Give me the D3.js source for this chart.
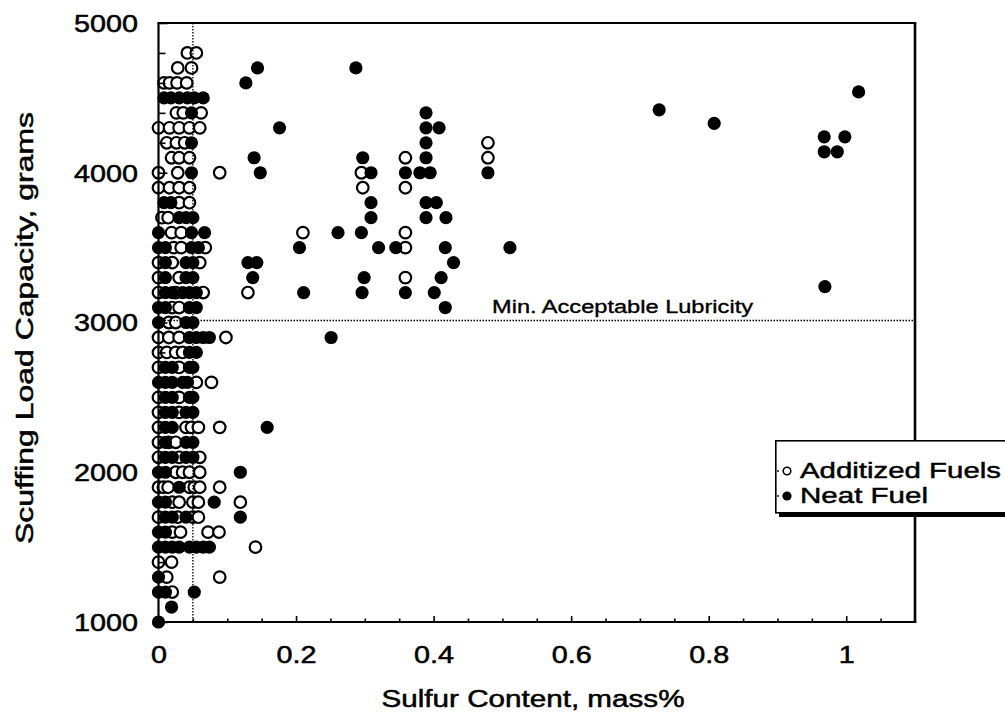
<!DOCTYPE html>
<html>
<head>
<meta charset="utf-8">
<script src="https://cdn.jsdelivr.net/npm/d3@7"></script>
<style>
  html, body { margin: 0; padding: 0; background: #fff; }
  svg { display: block; }
  text { font-family: "Liberation Sans", Arial, Helvetica, sans-serif; fill: #000; }
</style>
</head>
<body>
<svg id="chart" width="1005" height="721"></svg>
<script>
// ---------------- data ----------------
const seriesNames = ["Additized Fuels", "Neat Fuel"];

const xTickValues = [0, 0.2, 0.4, 0.6, 0.8, 1];
const xTickLabels = ["0", "0.2", "0.4", "0.6", "0.8", "1"];
const xMinorTicks = [0.05,0.1,0.15,0.25,0.3,0.35,0.45,0.5,0.55,0.65,0.7,0.75,0.85,0.9,0.95,1.05];
const yTickValues = [1000, 2000, 3000, 4000, 5000];
const yTickLabels = ["1000", "2000", "3000", "4000", "5000"];
const yMinorTicks = [1200,1400,1600,1800,2200,2400,2600,2800,3200,3400,3600,3800,4200,4400,4600,4800];

const sulfurLimit = 0.05;          // dotted vertical line (mass%)
const minLubricity = 3000;         // dotted horizontal line (grams)
const minLubricityLabel = "Min. Acceptable Lubricity";

// [sulfur mass%, scuffing load g]
const additizedLowSulfur = [
  [0.042,4800],[0.055,4800],
  [0.028,4700],[0.048,4700],
  [0.008,4600],[0.016,4600],[0.027,4600],[0.041,4600],
  [0.026,4400],[0.036,4400],[0.062,4400],
  [0,4300],[0.016,4300],[0.03,4300],[0.045,4300],[0.06,4300],
  [0.012,4200],[0.026,4200],[0.038,4200],
  [0.019,4100],[0.03,4100],[0.045,4100],
  [0,4000],[0.028,4000],[0.089,4000],
  [0,3900],[0.016,3900],[0.03,3900],[0.045,3900],
  [0.03,3800],[0.045,3800],
  [0.005,3700],[0.014,3700],
  [0.019,3600],[0.033,3600],
  [0.022,3500],[0.033,3500],[0.068,3500],
  [0,3400],[0.02,3400],[0.06,3400],
  [0,3300],[0.03,3300],
  [0,3200],[0.025,3200],[0.065,3200],
  [0.02,3100],[0.03,3100],
  [0.015,3000],[0.025,3000],
  [0,2900],[0.015,2900],[0.03,2900],[0.098,2900],
  [0,2800],[0.012,2800],[0.025,2800],[0.035,2800],
  [0,2700],[0.03,2700],
  [0.055,2600],[0.077,2600],
  [0,2500],[0.03,2500],
  [0,2400],[0.03,2400],
  [0,2300],[0.04,2300],[0.048,2300],[0.058,2300],[0.089,2300],
  [0,2200],[0.015,2200],[0.025,2200],
  [0,2100],[0.03,2100],[0.06,2100],
  [0.025,2000],[0.035,2000],[0.045,2000],[0.06,2000],
  [0,1900],[0.007,1900],[0.014,1900],[0.045,1900],[0.052,1900],[0.06,1900],[0.089,1900],
  [0.02,1800],[0.03,1800],[0.05,1800],[0.058,1800],
  [0,1700],[0.028,1700],[0.05,1700],[0.058,1700],
  [0.02,1600],[0.032,1600],[0.072,1600],[0.088,1600],
  [0,1400],[0.019,1400],
  [0.012,1300],[0.089,1300],
  [0.02,1200]
];
const additizedHighSulfur = [
  [0.119,1800],[0.141,1500],[0.13,3200],[0.21,3600],
  [0.295,4000],[0.297,3900],
  [0.359,4100],[0.359,3900],[0.359,3600],[0.359,3500],[0.359,3300],
  [0.479,4200],[0.479,4100]
];
const neatLowSulfur = [
  [0.008,4500],[0.018,4500],[0.03,4500],[0.042,4500],[0.052,4500],[0.065,4500],
  [0.048,4400],[0.048,4200],[0.048,4000],
  [0.008,3800],[0.018,3800],
  [0.03,3700],[0.04,3700],[0.05,3700],
  [0,3600],[0.048,3600],[0.067,3600],
  [0,3500],[0.01,3500],[0.048,3500],[0.058,3500],
  [0.01,3400],[0.04,3400],[0.05,3400],
  [0.01,3300],[0.04,3300],[0.05,3300],
  [0.01,3200],[0.02,3200],[0.035,3200],[0.045,3200],[0.055,3200],
  [0,3100],[0.01,3100],[0.045,3100],[0.055,3100],
  [0,3000],[0.04,3000],[0.05,3000],
  [0.045,2900],[0.055,2900],[0.065,2900],[0.074,2900],
  [0.045,2800],[0.055,2800],
  [0.01,2700],[0.02,2700],[0.045,2700],[0.05,2700],
  [0,2600],[0.01,2600],[0.02,2600],[0.035,2600],[0.042,2600],
  [0.01,2500],[0.02,2500],[0.045,2500],[0.05,2500],
  [0.01,2400],[0.02,2400],[0.04,2400],[0.05,2400],
  [0.01,2300],[0.02,2300],
  [0.01,2200],[0.04,2200],[0.05,2200],
  [0.01,2100],[0.02,2100],[0.04,2100],[0.05,2100],
  [0,2000],[0.01,2000],
  [0.03,1900],
  [0,1800],[0.01,1800],[0.081,1800],
  [0.01,1700],[0.02,1700],[0.04,1700],
  [0,1600],[0.01,1600],
  [0,1500],[0.01,1500],[0.02,1500],[0.03,1500],[0.045,1500],[0.055,1500],[0.065,1500],[0.074,1500],
  [0,1300],
  [0,1200],[0.01,1200],[0.052,1200],
  [0.019,1100],
  [0,1000]
];
const neatHighSulfur = [
  [0.144,4700],[0.287,4700],[0.127,4600],
  [0.389,4400],[0.176,4300],[0.389,4300],[0.408,4300],
  [0.389,4200],[0.139,4100],[0.297,4100],[0.389,4100],
  [0.148,4000],[0.309,4000],[0.359,4000],[0.38,4000],[0.395,4000],[0.479,4000],
  [0.309,3800],[0.389,3800],[0.404,3800],
  [0.309,3700],[0.389,3700],[0.418,3700],
  [0.261,3600],[0.295,3600],
  [0.205,3500],[0.32,3500],[0.345,3500],[0.417,3500],[0.511,3500],
  [0.13,3400],[0.143,3400],[0.429,3400],
  [0.137,3300],[0.299,3300],[0.411,3300],
  [0.211,3200],[0.296,3200],[0.359,3200],[0.401,3200],
  [0.417,3100],[0.251,2900],[0.158,2300],[0.119,2000],[0.119,1700],
  [0.728,4420],[0.808,4330],[1.018,4540],
  [0.968,4240],[0.998,4240],[0.968,4140],[0.987,4140],[0.969,3240]
];

const xTitle = "Sulfur Content, mass%";
const yTitle = "Scuffing Load Capacity, grams";

// ---------------- drawing ----------------
const svg = d3.select("#chart");
const x = d3.scaleLinear().domain([0, 1.1]).range([158.5, 915]);
const y = d3.scaleLinear().domain([1000, 5000]).range([622, 23]);

const STRETCH = 1.25;
function stretch(sel, factor) {
  sel.each(function() {
    const w = this.getComputedTextLength();
    d3.select(this).attr("textLength", w * factor).attr("lengthAdjust", "spacingAndGlyphs");
  });
}

// open circles (drawn first)
const openPts = additizedLowSulfur.concat(additizedHighSulfur);
svg.append("g").selectAll("circle").data(openPts).join("circle")
  .attr("cx", d => x(d[0])).attr("cy", d => y(d[1])).attr("r", 5.8)
  .attr("fill", "#fff").attr("stroke", "#000").attr("stroke-width", 2.2);

// reference dotted lines
svg.append("line")
  .attr("x1", x(sulfurLimit)).attr("x2", x(sulfurLimit))
  .attr("y1", y(5000)).attr("y2", y(1000))
  .attr("stroke", "#000").attr("stroke-width", 1.3).attr("stroke-dasharray", "1.5,1.5");
svg.append("line")
  .attr("x1", x(0)).attr("x2", x(1.1))
  .attr("y1", y(minLubricity) - 2).attr("y2", y(minLubricity) - 2)
  .attr("stroke", "#000").attr("stroke-width", 1.3).attr("stroke-dasharray", "1.5,1.5");

// filled circles
const fillPts = neatLowSulfur.concat(neatHighSulfur);
svg.append("g").selectAll("circle").data(fillPts).join("circle")
  .attr("cx", d => x(d[0])).attr("cy", d => y(d[1])).attr("r", 6.6)
  .attr("fill", "#000");

// axes
const gx = svg.append("g").attr("transform", `translate(0,${y(1000)})`)
  .call(d3.axisBottom(x).tickValues(xTickValues).tickSizeInner(-6).tickSizeOuter(0)
    .tickPadding(25).tickFormat((d, i) => xTickLabels[i]));
const gxm = svg.append("g").attr("transform", `translate(0,${y(1000)})`)
  .call(d3.axisBottom(x).tickValues(xMinorTicks).tickSizeInner(-3.5).tickSizeOuter(0).tickFormat(""));
const gy = svg.append("g").attr("transform", `translate(${x(0)},0)`)
  .call(d3.axisLeft(y).tickValues(yTickValues).tickSizeInner(-9).tickSizeOuter(0)
    .tickPadding(20.5).tickFormat((d, i) => yTickLabels[i]));
const gym = svg.append("g").attr("transform", `translate(${x(0)},0)`)
  .call(d3.axisLeft(y).tickValues(yMinorTicks).tickSizeInner(-7).tickSizeOuter(0).tickFormat(""));

[gx, gxm, gy, gym].forEach(g => {
  g.select(".domain").remove();
  g.selectAll(".tick line").attr("stroke", "#000").attr("stroke-width", 1.6);
});
[gx, gy].forEach(g => {
  g.selectAll(".tick text")
    .attr("font-family", '"Liberation Sans", Arial, sans-serif')
    .attr("font-size", 23).attr("fill", "#000")
    .attr("stroke", "#000").attr("stroke-width", 0.5);
});
gx.selectAll(".tick text").attr("dy", "0.71em");
gy.selectAll(".tick text").attr("dy", "0.36em");
stretch(gx.selectAll(".tick text"), STRETCH);
stretch(gy.selectAll(".tick text"), STRETCH);

// frame
svg.append("line").attr("x1", x(0)).attr("x2", x(0)).attr("y1", y(5000)).attr("y2", y(1000))
  .attr("stroke", "#000").attr("stroke-width", 2.2);
svg.append("line").attr("x1", x(0) - 1).attr("x2", x(1.1) + 1.3).attr("y1", y(1000)).attr("y2", y(1000))
  .attr("stroke", "#000").attr("stroke-width", 2.2);
svg.append("line").attr("x1", x(0) - 1).attr("x2", x(1.1) + 1.3).attr("y1", y(5000)).attr("y2", y(5000))
  .attr("stroke", "#000").attr("stroke-width", 2.2);
svg.append("line").attr("x1", x(1.1)).attr("x2", x(1.1)).attr("y1", y(5000)).attr("y2", y(1000))
  .attr("stroke", "#000").attr("stroke-width", 2.6);

// threshold label
svg.append("text").attr("x", 492).attr("y", y(minLubricity) - 10)
  .attr("font-size", 18).attr("stroke", "#000").attr("stroke-width", 0.35)
  .attr("textLength", 261).attr("lengthAdjust", "spacingAndGlyphs")
  .text(minLubricityLabel);

// axis titles
svg.append("text").attr("x", 533).attr("y", 707).attr("text-anchor", "middle")
  .attr("font-size", 23.5).attr("stroke", "#000").attr("stroke-width", 0.5)
  .attr("textLength", 303).attr("lengthAdjust", "spacingAndGlyphs")
  .text(xTitle);
svg.append("text").attr("transform", "translate(33,328) rotate(-90)").attr("text-anchor", "middle")
  .attr("font-size", 23.5).attr("stroke", "#000").attr("stroke-width", 0.5)
  .attr("textLength", 432).attr("lengthAdjust", "spacingAndGlyphs")
  .text(yTitle);

// legend
const lg = svg.append("g");
lg.append("rect").attr("x", 779).attr("y", 444).attr("width", 300).attr("height", 73).attr("fill", "#000");
lg.append("rect").attr("x", 775.8).attr("y", 440.8).attr("width", 300).attr("height", 72)
  .attr("fill", "#fff").attr("stroke", "#000").attr("stroke-width", 1.6);
const legendRows = [
  { name: seriesNames[0], open: true, cy: 471, len: 201 },
  { name: seriesNames[1], open: false, cy: 496, len: 128 }
];
legendRows.forEach(r => {
  lg.append("circle").attr("cx", 778).attr("cy", r.cy).attr("r", 0.9).attr("fill", "#000");
  lg.append("circle").attr("cx", 787).attr("cy", r.cy).attr("r", r.open ? 3.8 : 4.6)
    .attr("fill", r.open ? "#fff" : "#000").attr("stroke", "#000").attr("stroke-width", r.open ? 1.6 : 0);
  lg.append("text").attr("x", 800).attr("y", r.cy + 6.5)
    .attr("font-size", 21.5).attr("stroke", "#000").attr("stroke-width", 0.45)
    .attr("textLength", r.len).attr("lengthAdjust", "spacingAndGlyphs")
    .text(r.name);
});
</script>
</body>
</html>
